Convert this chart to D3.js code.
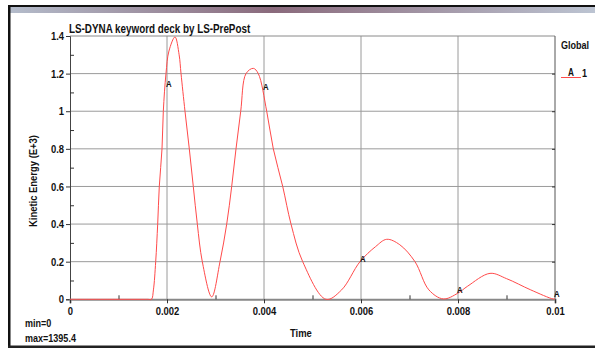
<!DOCTYPE html>
<html>
<head>
<meta charset="utf-8">
<script src="https://cdn.jsdelivr.net/npm/d3@7"></script>
<style>
  body { margin: 0; background: #fff; }
  text { font-family: "Liberation Sans", Arial, sans-serif; font-weight: bold; fill: #111; }
</style>
</head>
<body>
<script>
// Kinetic energy history
var times  = [0, 0.0008, 0.0016, 0.00168, 0.00172, 0.001767, 0.001808, 0.001841, 0.001897, 0.001924, 0.001979, 0.00204, 0.002165,
              0.00225, 0.002289, 0.002371, 0.00246, 0.002542, 0.002625, 0.002728, 0.002922,
              0.003093, 0.003231, 0.003334, 0.003423, 0.00352, 0.003629, 0.00378,
              0.003882, 0.004056, 0.004192, 0.004386, 0.004557, 0.004798, 0.005278,
              0.0056, 0.005979, 0.0063, 0.00653, 0.0068, 0.007113, 0.0074, 0.007697,
              0.007994, 0.0082, 0.00866, 0.009, 0.0095, 0.00996, 0.01];
var energy = [0, 0, 0, 0, 0.05, 0.2, 0.4, 0.6, 0.8, 1.0, 1.2, 1.32, 1.395,
              1.3, 1.2, 1.0, 0.8, 0.6, 0.4, 0.2, 0.013,
              0.2, 0.4, 0.6, 0.8, 1.0, 1.2, 1.228,
              1.2, 1.0, 0.8, 0.6, 0.4, 0.2, 0.0,
              0.05, 0.2, 0.28, 0.319, 0.29, 0.2, 0.05, 0.002,
              0.032, 0.07, 0.138, 0.11, 0.05, 0.002, 0.003];

// "A" curve markers
var markerTimes  = [0.002, 0.004, 0.006, 0.008, 0.01];
var markerValues = [1.13, 1.114, 0.2, 0.035, 0.01];

var yTicks = [0, 0.2, 0.4, 0.6, 0.8, 1, 1.2, 1.4];
var yMinor = [0.1, 0.3, 0.5, 0.7, 0.9, 1.1, 1.3];
var xTicks = [0, 0.002, 0.004, 0.006, 0.008, 0.01];
var xMinor = [0.001, 0.003, 0.005, 0.007, 0.009];

(function() {
  var W = 595, H = 348;
  var pLeft = 70, pRight = 555, pTop = 36, pBottom = 299.3;

  var svg = d3.select("body").append("svg")
      .attr("width", W)
      .attr("height", H);

  // window-ish frame
  var grad = svg.append("defs").append("linearGradient").attr("id", "bar");
  grad.append("stop").attr("offset", "0%").attr("stop-color", "#b4bccb");
  grad.append("stop").attr("offset", "45%").attr("stop-color", "#8a6a7c");
  grad.append("stop").attr("offset", "100%").attr("stop-color", "#bcc4d2");
  svg.append("rect").attr("x", 8).attr("y", 5).attr("width", W - 8).attr("height", 2).attr("fill", "#111");
  svg.append("rect").attr("x", 10).attr("y", 7).attr("width", W - 10).attr("height", 6).attr("fill", "url(#bar)");
  svg.append("rect").attr("x", 8).attr("y", 5).attr("width", 2.5).attr("height", H - 5).attr("fill", "#111");
  svg.append("rect").attr("x", 8).attr("y", 345.5).attr("width", W - 8).attr("height", 2.5).attr("fill", "#222");

  var x = d3.scaleLinear().domain([0, 0.01]).range([pLeft, pRight]);
  var y = d3.scaleLinear().domain([0, 1.4]).range([pBottom, pTop]);

  // grid
  svg.append("g").selectAll("line")
      .data(yTicks.slice(1, -1))
    .enter().append("line")
      .attr("x1", pLeft).attr("x2", pRight)
      .attr("y1", function(d) { return y(d); })
      .attr("y2", function(d) { return y(d); })
      .attr("stroke", "#9a9a9a");
  svg.append("g").selectAll("line")
      .data(xTicks.slice(1, -1))
    .enter().append("line")
      .attr("x1", function(d) { return x(d); })
      .attr("x2", function(d) { return x(d); })
      .attr("y1", pTop).attr("y2", pBottom)
      .attr("stroke", "#9a9a9a");

  // frame of plot
  svg.append("line").attr("x1", pLeft).attr("x2", pRight).attr("y1", pTop).attr("y2", pTop).attr("stroke", "#8a8a8a");
  svg.append("line").attr("x1", pRight).attr("x2", pRight).attr("y1", pTop).attr("y2", pBottom).attr("stroke", "#555");

  // left axis: major ticks out, minor ticks in
  var yAxis = svg.append("g").attr("transform", "translate(" + pLeft + ",0)")
      .call(d3.axisLeft(y).tickValues(yTicks).tickSize(4).tickPadding(2)
        .tickFormat(function(d) { return d3.format("~g")(d); }));
  yAxis.select(".domain").attr("stroke", "#444");
  yAxis.selectAll(".tick line").attr("stroke", "#333");
  yAxis.selectAll("text").attr("font-size", "11.5px").attr("fill", "#111");
  svg.append("g").attr("transform", "translate(" + pLeft + ",0)")
      .call(d3.axisRight(y).tickValues(yMinor).tickSize(4).tickFormat(""))
      .call(function(g) { g.select(".domain").remove(); })
      .selectAll(".tick line").attr("stroke", "#333");

  // right axis ticks (inward)
  svg.append("g").attr("transform", "translate(" + pRight + ",0)")
      .call(d3.axisLeft(y).tickValues(yTicks.slice(1, -1)).tickSize(3).tickFormat(""))
      .call(function(g) { g.select(".domain").remove(); })
      .selectAll(".tick line").attr("stroke", "#333");

  // bottom axis
  var xAxis = svg.append("g").attr("transform", "translate(0," + pBottom + ")")
      .call(d3.axisBottom(x).tickValues(xTicks).tickSize(4).tickPadding(4)
        .tickFormat(function(d) { return d3.format("~g")(d); }));
  xAxis.select(".domain").attr("stroke", "#888").attr("stroke-width", 2);
  xAxis.selectAll(".tick line").attr("stroke", "#333");
  xAxis.selectAll("text").attr("font-size", "11.5px").attr("fill", "#111");
  svg.append("g").attr("transform", "translate(0," + pBottom + ")")
      .call(d3.axisTop(x).tickValues(xMinor).tickSize(4).tickFormat(""))
      .call(function(g) { g.select(".domain").remove(); })
      .selectAll(".tick line").attr("stroke", "#333");

  // curve
  var line = d3.line()
      .x(function(d, i) { return x(times[i]); })
      .y(function(d) { return y(d); })
      .curve(d3.curveCatmullRom.alpha(0.5));
  svg.append("path")
      .attr("d", line(energy))
      .attr("fill", "none")
      .attr("stroke", "#ff4a4a")
      .attr("stroke-width", 1);

  svg.append("g").selectAll("text")
      .data(markerValues)
    .enter().append("text")
      .attr("x", function(d, i) { return x(markerTimes[i]) - 1; })
      .attr("y", function(d) { return y(d); })
      .attr("font-size", "9.5px")
      .text("A");

  // texts
  svg.append("text").attr("x", 69).attr("y", 32.5).attr("font-size", "12px")
      .text("LS-DYNA keyword deck by LS-PrePost");
  svg.append("text").attr("transform", "translate(37,181) rotate(-90)")
      .attr("text-anchor", "middle").attr("font-size", "11.5px")
      .text("Kinetic Energy (E+3)");
  svg.append("text").attr("x", 290).attr("y", 337).attr("font-size", "11.5px").text("Time");
  svg.append("text").attr("x", 25).attr("y", 327).attr("font-size", "11px").text("min=0");
  svg.append("text").attr("x", 25).attr("y", 342).attr("font-size", "11px").text("max=1395.4");

  // legend
  svg.append("text").attr("x", 561).attr("y", 49).attr("font-size", "11px").text("Global");
  svg.append("line").attr("x1", 561).attr("x2", 581).attr("y1", 77.5).attr("y2", 77.5)
      .attr("stroke", "#ff4a4a");
  svg.append("text").attr("x", 568).attr("y", 76).attr("font-size", "10px").text("A");
  svg.append("text").attr("x", 582).attr("y", 77).attr("font-size", "11px").text("1");

  // the original font is a condensed one: squeeze every label horizontally
  svg.selectAll("text").each(function() {
    var len = this.getComputedTextLength();
    if (len > 0) {
      d3.select(this).attr("textLength", len * 0.82).attr("lengthAdjust", "spacingAndGlyphs");
    }
  });
})();
</script>
</body>
</html>
